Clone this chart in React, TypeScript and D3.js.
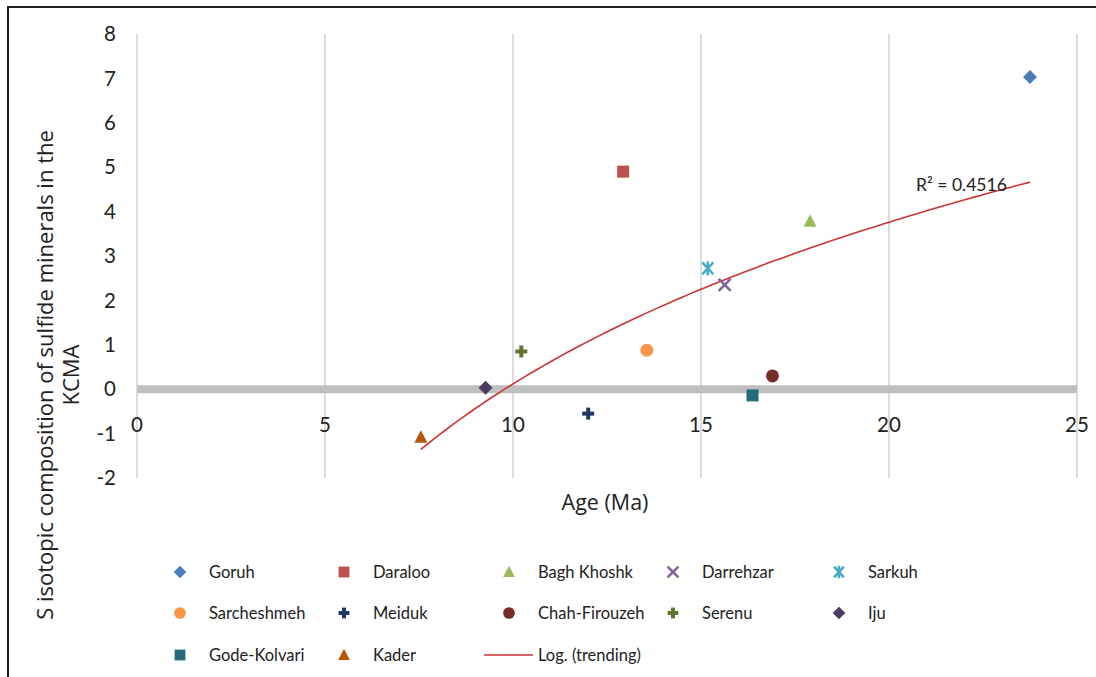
import React from "react";
import * as d3 from "d3";

const W = 1096;
const H = 677;

const seriesNames = [
  "Goruh", "Daraloo", "Bagh Khoshk", "Darrehzar", "Sarkuh",
  "Sarcheshmeh", "Meiduk", "Chah-Firouzeh", "Serenu", "Iju",
  "Gode-Kolvari", "Kader",
];
const ages = [23.75, 12.93, 17.9, 15.63, 15.18, 13.56, 12.0, 16.9, 10.22, 9.27, 16.37, 7.55];
const deltaS = [7.03, 4.9, 3.78, 2.35, 2.72, 0.88, -0.55, 0.3, 0.85, 0.03, -0.14, -1.08];
const colors = [
  "#4a7ebb", "#c0504d", "#9bbb59", "#8064a2", "#4bacc6",
  "#f79646", "#1f3864", "#772c2a", "#5f7530", "#4d3b62",
  "#276a7c", "#b65708",
];
const shapes = [
  "diamond", "square", "triangle", "x", "star",
  "circle", "plus", "circle", "plus", "diamond",
  "square", "triangle",
];
const xTicks = [0, 5, 10, 15, 20, 25];
const yTicks = [-2, -1, 0, 1, 2, 3, 4, 5, 6, 7, 8];
const trendLabel = "Log. (trending)";
const r2Label = "R² = 0.4516";

const FONT = "Lato, 'Open Sans', sans-serif";
const TITLE_FONT = "'Open Sans', Lato, sans-serif";

function Marker({ shape, x, y, color, s = 1 }: { shape: string; x: number; y: number; color: string; s?: number }) {
  switch (shape) {
    case "diamond":
      return <path d={`M${x},${y - 7 * s}L${x + 7 * s},${y}L${x},${y + 7 * s}L${x - 7 * s},${y}Z`} fill={color} />;
    case "square":
      return <rect x={x - 6 * s} y={y - 6 * s} width={12 * s} height={12 * s} fill={color} />;
    case "triangle":
      return <path d={`M${x},${y - 7 * s}L${x + 6.5 * s},${y + 5.5 * s}L${x - 6.5 * s},${y + 5.5 * s}Z`} fill={color} />;
    case "circle":
      return <circle cx={x} cy={y} r={6.5 * s} fill={color} />;
    case "x":
      return (
        <g stroke={color} strokeWidth={2.6}>
          <line x1={x - 6 * s} y1={y - 6 * s} x2={x + 6 * s} y2={y + 6 * s} />
          <line x1={x - 6 * s} y1={y + 6 * s} x2={x + 6 * s} y2={y - 6 * s} />
        </g>
      );
    case "star":
      return (
        <g stroke={color} strokeWidth={2.6}>
          <line x1={x - 5.5 * s} y1={y - 6 * s} x2={x + 5.5 * s} y2={y + 6 * s} />
          <line x1={x - 5.5 * s} y1={y + 6 * s} x2={x + 5.5 * s} y2={y - 6 * s} />
          <line x1={x} y1={y - 7 * s} x2={x} y2={y + 7 * s} />
        </g>
      );
    case "plus":
      return (
        <g stroke={color} strokeWidth={4}>
          <line x1={x - 6 * s} y1={y} x2={x + 6 * s} y2={y} />
          <line x1={x} y1={y - 6 * s} x2={x} y2={y + 6 * s} />
        </g>
      );
    default:
      return null;
  }
}

export default function App() {
  const x = d3.scaleLinear().domain([0, 25]).range([137, 1077]);
  const y = d3.scaleLinear().domain([-2, 8]).range([478, 34]);

  // logarithmic least-squares trendline y = a ln(x) + b
  const L = ages.map((a) => Math.log(a));
  const mL = d3.mean(L)!;
  const mY = d3.mean(deltaS)!;
  const sxy = d3.sum(L, (l, i) => (l - mL) * (deltaS[i] - mY));
  const sxx = d3.sum(L, (l) => (l - mL) ** 2);
  const a = sxy / sxx;
  const b = mY - a * mL;
  const [minX, maxX] = d3.extent(ages) as [number, number];
  const trendPts = d3.range(0, 101).map((i) => {
    const xv = minX + ((maxX - minX) * i) / 100;
    return [xv, a * Math.log(xv) + b] as [number, number];
  });
  const line = d3.line<[number, number]>().x((d) => x(d[0])).y((d) => y(d[1]));

  const legendCols = [180, 344, 509, 673, 839];
  const legendRows = [572, 613, 655];

  return (
    <svg width={W} height={H} style={{ position: "absolute", left: 0, top: 0, background: "#fff" }} fontFamily={FONT}>
      <rect x={0} y={0} width={W} height={H} fill="#fff" />
      {/* frame */}
      <path d={`M8,${H}L8,7L${W},7`} fill="none" stroke="#222" strokeWidth={2} />

      {/* vertical gridlines */}
      {xTicks.map((t) => (
        <line key={t} x1={x(t)} x2={x(t)} y1={y(8)} y2={y(-2)} stroke="#d0d0d0" strokeWidth={1.5} />
      ))}
      {/* zero axis line */}
      <line x1={x(0)} x2={x(25)} y1={y(0)} y2={y(0)} stroke="#bfbfbf" strokeWidth={8} />

      {/* y tick labels */}
      {yTicks.map((t) => (
        <text key={t} x={116} y={y(t)} dy="0.35em" textAnchor="end" fontSize={20.5} fill="#222">
          {t}
        </text>
      ))}
      {/* x tick labels */}
      {xTicks.map((t) => (
        <text key={t} x={x(t)} y={425} dy="0.35em" textAnchor="middle" fontSize={20.5} fill="#222">
          {t}
        </text>
      ))}

      {/* axis titles */}
      <text x={605} y={510} textAnchor="middle" fontSize={21.5} fill="#222" fontFamily={TITLE_FONT}>
        Age (Ma)
      </text>
      <g transform="translate(0,375) rotate(-90)" fontFamily={TITLE_FONT}>
        <text x={0} y={53} textAnchor="middle" fontSize={22} fill="#222">
          S isotopic composition of sulfide minerals in the
        </text>
        <text x={0} y={79} textAnchor="middle" fontSize={22} fill="#222">
          KCMA
        </text>
      </g>

      {/* trendline */}
      <path d={line(trendPts) || ""} fill="none" stroke="#cc3333" strokeWidth={1.6} />
      <text x={916} y={191} fontSize={17.5} fill="#222">
        {r2Label}
      </text>

      {/* points */}
      {seriesNames.map((n, i) => (
        <Marker key={n} shape={shapes[i]} x={x(ages[i])} y={y(deltaS[i])} color={colors[i]} />
      ))}

      {/* legend */}
      {seriesNames.map((n, i) => {
        const col = i % 5;
        const row = Math.floor(i / 5);
        return (
          <g key={n}>
            <Marker shape={shapes[i]} x={legendCols[col]} y={legendRows[row]} color={colors[i]} s={0.9} />
            <text x={legendCols[col] + 29} y={legendRows[row]} dy="0.35em" fontSize={16.5} fill="#222">
              {n}
            </text>
          </g>
        );
      })}
      <line x1={484} x2={533} y1={legendRows[2]} y2={legendRows[2]} stroke="#cc3333" strokeWidth={1.6} />
      <text x={538} y={legendRows[2]} dy="0.35em" fontSize={16.5} fill="#222">
        {trendLabel}
      </text>
    </svg>
  );
}
